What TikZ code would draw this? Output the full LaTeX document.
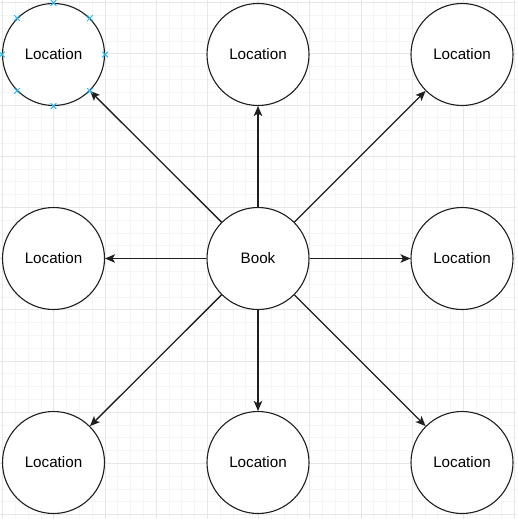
\documentclass[tikz,border=0pt]{standalone}
\usepackage{fontspec}
\setmainfont{Liberation Sans}
\usetikzlibrary{arrows.meta}
\definecolor{gridminor}{HTML}{F5F5F5}
\definecolor{gridmajor}{HTML}{E7E7E7}
\definecolor{handleblue}{HTML}{29B6F2}
\definecolor{linecol}{HTML}{1F1F1F}
\begin{document}
\begin{tikzpicture}[x=1pt,y=-1pt,
  loc/.style={circle,draw=linecol,line width=1.1pt,fill=white,minimum size=102pt,inner sep=0pt,font=\fontsize{15.2}{18}\selectfont},
  conn/.style={draw=linecol,line width=1.3pt,-{Stealth[length=10pt,width=8.5pt,inset=2.5pt]}},
  handle/.style={draw=handleblue,line width=1pt},
  minorline/.style={draw=gridminor,line width=0.8pt},
  majorline/.style={draw=gridmajor,line width=0.9pt}]
\useasboundingbox (0,0) rectangle (517,519);
\fill[white] (0,0) rectangle (517,519);
\begin{scope}
\clip (0,0) rectangle (517,519);
\foreach \i in {0,...,41} {
  \pgfmathsetmacro{\p}{2.6+12.8*(\i-1)}
  \draw[minorline] (\p,0) -- (\p,519);
  \draw[minorline] (0,\p) -- (517,\p);
}
\foreach \i in {0,...,11} {
  \pgfmathsetmacro{\p}{2.6+51.2*(\i-1)}
  \draw[majorline] (\p,0) -- (\p,519);
  \draw[majorline] (0,\p) -- (517,\p);
}
\end{scope}

\node[loc] (book) at (258,258.5) {Book};
\node[loc] (tl) at (53.5,54.5) {Location};
\node[loc] (tm) at (258,54.5) {Location};
\node[loc] (tr) at (462,54.5) {Location};
\node[loc] (ml) at (53.5,258.5) {Location};
\node[loc] (mr) at (462,258.5) {Location};
\node[loc] (bl) at (53.5,462.5) {Location};
\node[loc] (bm) at (258,462.5) {Location};
\node[loc] (br) at (462,462.5) {Location};

\draw[conn] (book) -- (tl);
\draw[conn] (book) -- (tm);
\draw[conn] (book) -- (tr);
\draw[conn] (book) -- (ml);
\draw[conn] (book) -- (mr);
\draw[conn] (book) -- (bl);
\draw[conn] (book) -- (bm);
\draw[conn] (book) -- (br);

\foreach \a in {0,45,...,315} {
  \draw[handle] ([shift={(-2.8,-2.8)}]tl.\a) -- ([shift={(2.8,2.8)}]tl.\a);
  \draw[handle] ([shift={(-2.8,2.8)}]tl.\a) -- ([shift={(2.8,-2.8)}]tl.\a);
}
\end{tikzpicture}
\end{document}
